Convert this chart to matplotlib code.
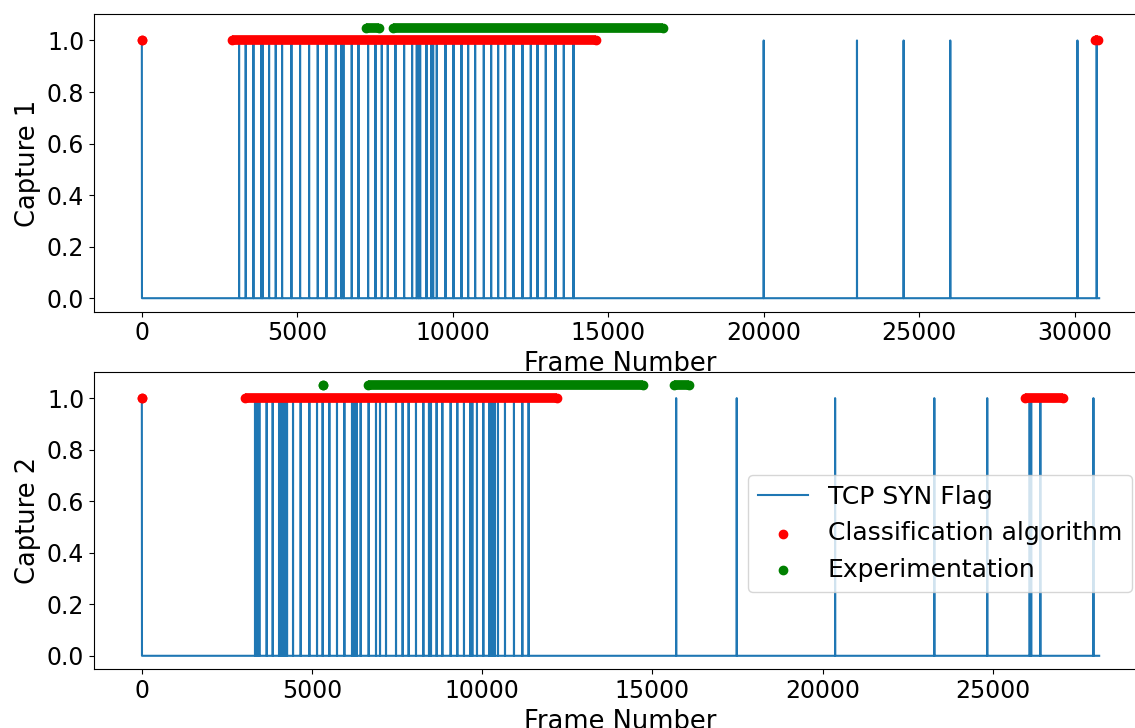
import numpy as np
import matplotlib
matplotlib.use("Agg")
import matplotlib.pyplot as plt

# Frames carrying the TCP SYN flag in each capture
syn_frames_1 = [0, 3127, 3341, 3588, 3835, 3888, 4092, 4307, 4510, 4810, 5089,
                5379, 5658, 5936, 6237, 6419, 6483, 6751, 6966, 7277, 7513,
                7717, 7910, 8156, 8435, 8692, 8843, 8907, 8950, 9153, 9304,
                9368, 9486, 9765, 10022, 10279, 10494, 10719, 10998, 11234,
                11459, 11684, 11952, 12241, 12510, 12724, 12992, 13303, 13571,
                13882, 20000, 23000, 24500, 26000, 30090, 30710]
syn_frames_2 = [0, 3325, 3384, 3453, 3668, 3845, 4031, 4080, 4138, 4207, 4266,
                4442, 4667, 4922, 5147, 5313, 5509, 5734, 5950, 6175, 6214,
                6263, 6312, 6430, 6665, 6880, 6998, 7174, 7468, 7663, 7840,
                8055, 8271, 8437, 8467, 8496, 8662, 8829, 9074, 9269, 9465,
                9651, 9710, 9847, 10033, 10209, 10258, 10307, 10366, 10464,
                10670, 10934, 11179, 11365, 15700, 17480, 20370, 23285, 24840,
                26087, 26131, 26400, 27960]
n_frames_1 = 30790
n_frames_2 = 28130

# Frame ranges (first, last) flagged by each method
classif_1 = [(0, 0), (2900, 14600), (30640, 30760)]
experim_1 = [(7200, 7630), (8070, 16770)]
classif_2 = [(0, 0), (3030, 12200), (25960, 27060)]
experim_2 = [(5333, 5333), (6645, 14720), (15630, 16075)]

classif_level = 1.0
experim_level = 1.05


def syn_series(frames, n):
    flags = np.zeros(n)
    flags[np.asarray(frames)] = 1.0
    return np.arange(n), flags


def draw_ranges(ax, ranges, level, color, label):
    # Dense runs of flagged frames render as a solid band of dots
    starts = [a for a, b in ranges]
    ends = [b for a, b in ranges]
    for a, b in ranges:
        if b > a:
            ax.plot([a, b], [level, level], color=color, lw=7,
                    solid_capstyle="butt", zorder=3)
    ax.scatter(starts + ends, [level] * (2 * len(ranges)), color=color,
               s=36, zorder=3, label=label)


fig = plt.figure(figsize=(11.35, 7.28), dpi=100)
ax1 = fig.add_axes([0.0828, 0.5718, 0.9278, 0.4089])
ax2 = fig.add_axes([0.0828, 0.0806, 0.9278, 0.4088])

panels = [
    (ax1, syn_frames_1, n_frames_1, classif_1, experim_1, "Capture 1"),
    (ax2, syn_frames_2, n_frames_2, classif_2, experim_2, "Capture 2"),
]

for ax, syn, n, cls, exp_, ylab in panels:
    x, y = syn_series(syn, n)
    ax.plot(x, y, color="#1f77b4", lw=1.5, label="TCP SYN Flag", zorder=2)
    draw_ranges(ax, cls, classif_level, "red", "Classification algorithm")
    draw_ranges(ax, exp_, experim_level, "green", "Experimentation")
    ax.set_xlabel("Frame Number", fontsize=18.5)
    ax.set_ylabel(ylab, fontsize=18.5)
    ax.tick_params(labelsize=17)
    ax.set_yticks([0.0, 0.2, 0.4, 0.6, 0.8, 1.0])

ax2.legend(loc="upper left", bbox_to_anchor=(0.621, 0.654),
           borderaxespad=0, fontsize=18)

fig.savefig("out.png", dpi=100)
